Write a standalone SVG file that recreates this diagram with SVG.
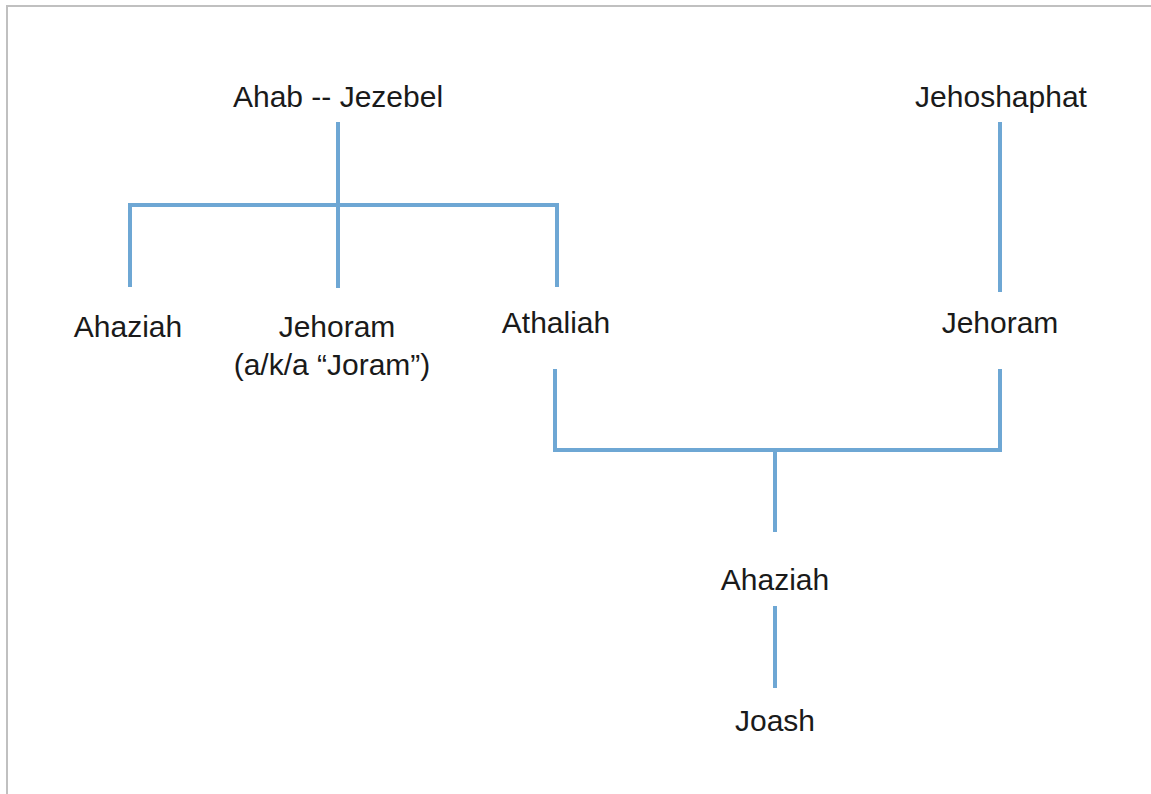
<svg xmlns="http://www.w3.org/2000/svg" width="1151" height="794" viewBox="0 0 1151 794">
<style>
.t{font-family:"Liberation Sans",Arial,sans-serif;font-size:30px;fill:#1a1a1a;text-anchor:middle}
.c{stroke:#6ea7d4;stroke-width:4;fill:none;stroke-linecap:butt;stroke-linejoin:miter}
</style>
<rect x="0" y="0" width="1151" height="794" fill="#ffffff"/>
<path d="M7,794 V6 H1151" fill="none" stroke="#c0c0c0" stroke-width="2"/>
<g id="connectors">
<path class="c" d="M338,122 V288"/>
<path class="c" d="M130,287 V205 H557 V287"/>
<path class="c" d="M1000,122 V292"/>
<path class="c" d="M555,369 V450 H1000 V369"/>
<path class="c" d="M775,450 V532"/>
<path class="c" d="M775,606 V688"/>
</g>
<g id="ahab-jezebel"><text class="t" x="338" y="107">Ahab -- Jezebel</text></g>
<g id="jehoshaphat"><text class="t" x="1001" y="107">Jehoshaphat</text></g>
<g id="ahaziah-1"><text class="t" x="128" y="337">Ahaziah</text></g>
<g id="jehoram-1"><text class="t" x="337" y="337">Jehoram</text><text class="t" x="332" y="375">(a/k/a “Joram”)</text></g>
<g id="athaliah"><text class="t" x="556" y="333">Athaliah</text></g>
<g id="jehoram-2"><text class="t" x="1000" y="333">Jehoram</text></g>
<g id="ahaziah-2"><text class="t" x="775" y="590">Ahaziah</text></g>
<g id="joash"><text class="t" x="775" y="731">Joash</text></g>
</svg>
